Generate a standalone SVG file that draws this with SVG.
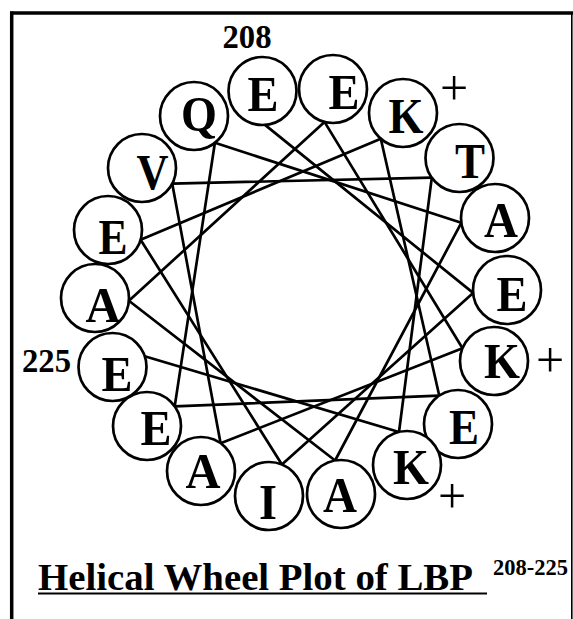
<svg xmlns="http://www.w3.org/2000/svg" width="573" height="619" viewBox="0 0 573 619">
<style>
  text { font-family: "Liberation Serif", "Times New Roman", serif; fill: #000; }
  .res circle { fill: #fff; stroke: #000; stroke-width: 2.7; }
  .aa { font-size: 51px; font-weight: bold; text-anchor: middle; }
  .num { font-size: 33px; font-weight: bold; }
  .plus { font-size: 50px; font-weight: normal; text-anchor: middle; }
  #connectors line { stroke: #000; stroke-width: 2.7; stroke-linecap: round; }
  .frame { stroke: #000; fill: none; }
</style>
<rect x="0" y="0" width="573" height="619" fill="#fff"/>
<g id="frame">
  <line class="frame" x1="10" y1="13" x2="573" y2="13" stroke-width="3.5"/>
  <line class="frame" x1="11.7" y1="11.5" x2="11.7" y2="619" stroke-width="3.5"/>
  <line class="frame" x1="571.8" y1="13" x2="571.8" y2="619" stroke-width="1.6" stroke="#444"/>
</g>
<g id="connectors">
  <line x1="265" y1="124.9" x2="473.1" y2="292.9"/>
  <line x1="473.1" y1="292.9" x2="281.9" y2="464.5"/>
  <line x1="281.9" y1="464.5" x2="140.6" y2="239.7"/>
  <line x1="140.6" y1="239.7" x2="380.8" y2="138.7"/>
  <line x1="380.8" y1="138.7" x2="439.3" y2="395.7"/>
  <line x1="439.3" y1="395.7" x2="174.7" y2="406.4"/>
  <line x1="174.7" y1="406.4" x2="214.9" y2="142.8"/>
  <line x1="214.9" y1="142.8" x2="461.3" y2="222.8"/>
  <line x1="461.3" y1="222.8" x2="335.1" y2="460.5"/>
  <line x1="335.1" y1="460.5" x2="128.9" y2="300.8"/>
  <line x1="128.9" y1="300.8" x2="324.5" y2="121.9"/>
  <line x1="324.5" y1="121.9" x2="462.5" y2="348.2"/>
  <line x1="462.5" y1="348.2" x2="220.6" y2="443.3"/>
  <line x1="220.6" y1="443.3" x2="172.2" y2="183.6"/>
  <line x1="172.2" y1="183.6" x2="431.8" y2="177.7"/>
  <line x1="431.8" y1="177.7" x2="399" y2="432"/>
  <line x1="399" y1="432" x2="144.7" y2="356.2"/>
</g>
<g id="r208-E" class="res"><circle cx="262.5" cy="91" r="34"/><text class="aa" x="263" y="111" textLength="31" lengthAdjust="spacingAndGlyphs">E</text><text class="num" x="247" y="48" text-anchor="middle" textLength="49" lengthAdjust="spacingAndGlyphs">208</text></g>
<g id="r219-E" class="res"><circle cx="333" cy="89" r="34"/><text class="aa" x="344" y="109" textLength="31" lengthAdjust="spacingAndGlyphs">E</text></g>
<g id="r212-K" class="res"><circle cx="403" cy="113" r="34"/><text class="aa" x="406" y="133" textLength="35" lengthAdjust="spacingAndGlyphs">K</text><text class="plus" x="454" y="104.5">+</text></g>
<g id="r223-T" class="res"><circle cx="459.5" cy="158" r="34"/><text class="aa" x="470" y="178" textLength="30" lengthAdjust="spacingAndGlyphs">T</text></g>
<g id="r216-A" class="res"><circle cx="495" cy="218" r="34"/><text class="aa" x="501" y="237" textLength="34" lengthAdjust="spacingAndGlyphs">A</text></g>
<g id="r209-E" class="res"><circle cx="507" cy="290" r="34"/><text class="aa" x="512" y="311" textLength="31" lengthAdjust="spacingAndGlyphs">E</text></g>
<g id="r220-K" class="res"><circle cx="494" cy="361" r="34"/><text class="aa" x="502" y="378" textLength="36" lengthAdjust="spacingAndGlyphs">K</text><text class="plus" x="550" y="376.5">+</text></g>
<g id="r213-E" class="res"><circle cx="458" cy="424" r="34"/><text class="aa" x="464" y="444" textLength="30" lengthAdjust="spacingAndGlyphs">E</text></g>
<g id="r224-K" class="res"><circle cx="407" cy="465" r="34"/><text class="aa" x="411" y="484" textLength="36" lengthAdjust="spacingAndGlyphs">K</text><text class="plus" x="452" y="512.5">+</text></g>
<g id="r217-A" class="res"><circle cx="341" cy="494" r="34"/><text class="aa" x="340" y="511.5" textLength="34" lengthAdjust="spacingAndGlyphs">A</text></g>
<g id="r210-I" class="res"><circle cx="269" cy="496" r="34"/><text class="aa" x="268" y="519" textLength="18" lengthAdjust="spacingAndGlyphs">I</text></g>
<g id="r221-A" class="res"><circle cx="201" cy="471" r="34"/><text class="aa" x="203" y="488" textLength="35" lengthAdjust="spacingAndGlyphs">A</text></g>
<g id="r214-E" class="res"><circle cx="147" cy="426" r="34"/><text class="aa" x="156" y="445" textLength="31" lengthAdjust="spacingAndGlyphs">E</text></g>
<g id="r225-E" class="res"><circle cx="112.5" cy="367" r="34"/><text class="aa" x="117" y="390.5" textLength="31" lengthAdjust="spacingAndGlyphs">E</text><text class="num" x="71" y="372" text-anchor="end" textLength="49" lengthAdjust="spacingAndGlyphs">225</text></g>
<g id="r218-A" class="res"><circle cx="95" cy="298" r="34"/><text class="aa" x="103" y="321.5" textLength="35" lengthAdjust="spacingAndGlyphs">A</text></g>
<g id="r211-E" class="res"><circle cx="108" cy="230" r="34"/><text class="aa" x="113" y="254" textLength="29" lengthAdjust="spacingAndGlyphs">E</text></g>
<g id="r222-V" class="res"><circle cx="142" cy="168" r="34"/><text class="aa" x="152.5" y="189" textLength="32" lengthAdjust="spacingAndGlyphs">V</text></g>
<g id="r215-Q" class="res"><circle cx="194" cy="116" r="34"/><text class="aa" x="199" y="131" textLength="36" lengthAdjust="spacingAndGlyphs">Q</text></g>
<g id="title">
  <text x="38" y="590" font-size="37" font-weight="bold" textLength="435" lengthAdjust="spacingAndGlyphs">Helical Wheel Plot of LBP</text>
  <line x1="38" y1="593.5" x2="487" y2="593.5" stroke="#000" stroke-width="2.2"/>
  <text x="493" y="575" font-size="23" font-weight="bold" textLength="75" lengthAdjust="spacingAndGlyphs">208-225</text>
</g>
</svg>
